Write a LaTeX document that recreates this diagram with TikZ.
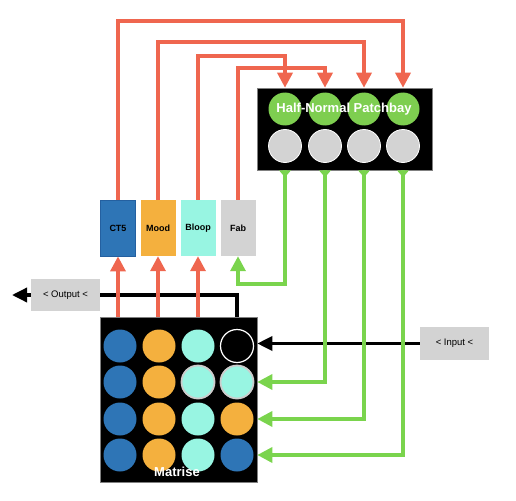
\documentclass[tikz,border=0pt]{standalone}
\usepackage{fontspec}
\setmainfont{Liberation Sans}
\usetikzlibrary{arrows.meta,calc}
\definecolor{cred}{RGB}{239,102,79}
\definecolor{cgreen}{RGB}{122,212,77}
\definecolor{cgdot}{RGB}{126,206,80}
\definecolor{cblue}{RGB}{46,117,182}
\definecolor{cbluedk}{RGB}{36,96,160}
\definecolor{corange}{RGB}{244,176,62}
\definecolor{caqua}{RGB}{152,245,226}
\definecolor{cgray}{RGB}{211,211,211}
\begin{document}
\begin{tikzpicture}[x=1pt,y=-1pt,
  fxbox/.style={minimum width=35pt, minimum height=56pt, inner sep=0pt, font=\fontsize{9}{10}\selectfont\bfseries},
  dot/.style={circle, minimum size=33pt, inner sep=0pt},
  tagbox/.style={fill=cgray, minimum width=69pt, minimum height=32pt, inner sep=0pt, font=\fontsize{9.5}{10}\selectfont},
  panel/.style={fill=black, draw=gray, line width=0.6pt, inner sep=0pt},
  redline/.style={draw=cred, line width=3.4pt},
  redarrow/.style={redline, -{Triangle[width=15pt,length=15pt]}},
  greenline/.style={draw=cgreen, line width=3.4pt},
  greenarrow/.style={greenline, -{Triangle[width=15pt,length=15pt]}},
  blackline/.style={draw=black, line width=3.4pt},
  blackarrow/.style={blackline, -{Triangle[width=14pt,length=15pt]}},
  paneltext/.style={text=white, font=\fontsize{13}{14}\selectfont\bfseries, inner sep=0pt}
]
\useasboundingbox (0,0) rectangle (516,500);

% patchbay
\node[panel, minimum width=175pt, minimum height=82pt] (pb) at (344.5,129) {};
\foreach \i/\x in {1/285,2/325,3/364,4/403}{
  \node[dot, fill=cgdot] (p\i) at (\x,109) {};
  \node[dot, fill=cgray, draw=white, line width=0.8pt] (q\i) at (\x,146) {};
}
\node[paneltext] (pbl) at (344,109) {Half-Normal Patchbay};

% effect boxes
\node[fxbox, fill=cblue, draw=cbluedk, line width=0.8pt] (ct5) at (118,228) {CT5};
\node[fxbox, fill=corange] (mood) at (158,228) {Mood};
\node[fxbox, fill=caqua] (bloop) at (198,228) {Bloop};
\node[fxbox, fill=cgray] (fab) at (238,228) {Fab};

% output / input
\node[tagbox] (out) at (65.5,295) {< Output <};
\node[tagbox, minimum height=33pt] (in) at (454.5,343.5) {< Input <};
\coordinate (otip) at (12,295);

% matrix
\node[panel, minimum width=157pt, minimum height=165pt] (mat) at (178.5,399.5) {};
\foreach \c/\x in {1/120,2/159,3/198,4/237}{
  \foreach \r/\y in {1/346,2/382,3/419,4/455}{
    \coordinate (m\r\c) at (\x,\y);
  }
}
\foreach \r in {1,2,3,4}{
  \node[dot, fill=cblue] (d\r1) at (m\r1) {};
  \node[dot, fill=corange] (d\r2) at (m\r2) {};
}
\node[dot, fill=caqua] (d13) at (m13) {};
\node[dot, fill=caqua, draw=gray!40, line width=1.8pt] (d23) at (m23) {};
\node[dot, fill=caqua] (d33) at (m33) {};
\node[dot, fill=caqua] (d43) at (m43) {};
\node[dot, fill=black, draw=white, line width=1.2pt] (d14) at (m14) {};
\node[dot, fill=caqua, draw=gray!40, line width=1.8pt] (d24) at (m24) {};
\node[dot, fill=corange] (d34) at (m34) {};
\node[dot, fill=cblue] (d44) at (m44) {};
\node[paneltext] (matl) at (177,472) {Matrise};

% level coordinates
\coordinate (r1) at (0,21);
\coordinate (r2) at (0,42);
\coordinate (r3) at (0,56);
\coordinate (r4) at (0,68);
\coordinate (g0) at (0,284);

% black connectors
\draw[blackline] (mat.north -| d14) |- (out.east);
\draw[blackarrow] (out.west) -- (otip);
\draw[blackarrow] (in.west) -- (in.west -| mat.east);

% red connectors
\draw[redarrow] (ct5.north) |- (r1 -| p4) -- (p4 |- pb.north);
\draw[redarrow] (mood.north) |- (r2 -| p3) -- (p3 |- pb.north);
\draw[redarrow] (bloop.north) |- (r3 -| p1) -- (p1 |- pb.north);
\draw[redarrow] (fab.north) |- (r4 -| p2) -- (p2 |- pb.north);
\draw[redarrow] (mat.north -| ct5) -- (ct5.south);
\draw[redarrow] (mat.north -| mood) -- (mood.south);
\draw[redarrow] (mat.north -| bloop) -- (bloop.south);

% green connectors
\draw[greenarrow] (pb.south -| p1) |- (g0 -| fab) -- (fab.south);
\draw[greenarrow] (pb.south -| p2) |- (mat.east |- d24);
\draw[greenarrow] (pb.south -| p3) |- (mat.east |- d34);
\draw[greenarrow] (pb.south -| p4) |- (mat.east |- d44);
\foreach \i in {1,2,3,4}{
  \fill[cgreen] ($(pb.south -| p\i)+(-6,0)$) -- ++(12,0) -- ++(-6,7) -- cycle;
}
\end{tikzpicture}
\end{document}
